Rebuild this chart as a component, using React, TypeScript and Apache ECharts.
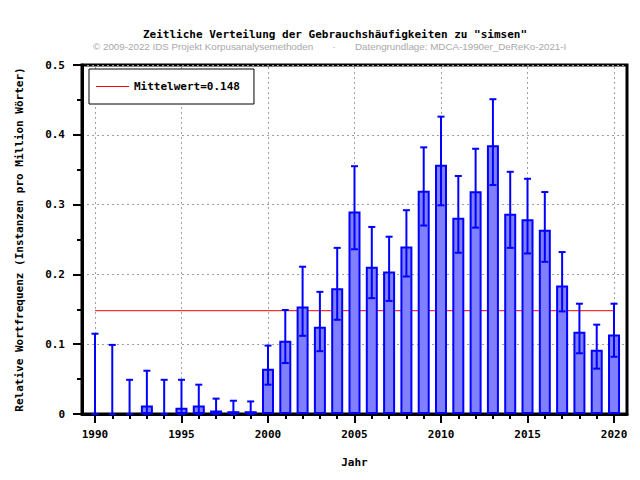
import React, { useEffect, useRef } from "react";
import * as echarts from "echarts";

const years = [
  1990, 1991, 1992, 1993, 1994, 1995, 1996, 1997, 1998, 1999,
  2000, 2001, 2002, 2003, 2004, 2005, 2006, 2007, 2008, 2009,
  2010, 2011, 2012, 2013, 2014, 2015, 2016, 2017, 2018, 2019, 2020,
];
const values = [
  0, 0, 0, 0.012, 0, 0.009, 0.012, 0.005, 0.004, 0.004,
  0.065, 0.105, 0.154, 0.125, 0.18, 0.29, 0.211, 0.204, 0.24, 0.32,
  0.357, 0.281, 0.319, 0.385, 0.287, 0.279, 0.264, 0.184, 0.118, 0.092, 0.114,
];
const upper = [
  0.115, 0.099, 0.049, 0.062, 0.049, 0.049, 0.042, 0.022, 0.019, 0.018,
  0.098, 0.149, 0.211, 0.175, 0.238, 0.355, 0.268, 0.254, 0.292, 0.382,
  0.426, 0.341, 0.38, 0.451, 0.347, 0.337, 0.318, 0.232, 0.158, 0.128, 0.158,
];
const lower = [
  0, 0, 0, 0, 0, 0, 0, 0, 0, 0,
  0.042, 0.073, 0.112, 0.09, 0.135, 0.236, 0.166, 0.162, 0.197, 0.27,
  0.299, 0.231, 0.267, 0.328, 0.238, 0.23, 0.218, 0.147, 0.087, 0.065, 0.082,
];
const meanValue = 0.148;
const meanLabel = "Mittelwert=0.148";
const labelYears = [1990, 1995, 2000, 2005, 2010, 2015, 2020];
const titleText = 'Zeitliche Verteilung der Gebrauchshäufigkeiten zu "simsen"';
const creditLeft = "© 2009-2022 IDS Projekt Korpusanalysemethoden";
const creditRight = "Datengrundlage: MDCA-1990er_DeReKo-2021-I";
const yName = "Relative Wortfrequenz (Instanzen pro Million Wörter)";
const xName = "Jahr";

export default function App() {
  const ref = useRef<HTMLDivElement>(null);
  useEffect(() => {
    const chart = echarts.init(ref.current!, null, { renderer: "svg" });
    const mono = "'DejaVu Sans Mono', monospace";
    const monoText = {
      fontFamily: mono,
      fontWeight: "bold" as const,
      fontSize: 11,
      color: "#000",
    };
    const creditFont = "9.8px 'Liberation Sans', Arial, sans-serif";
    const gridLine = { color: "#a0a0a0", width: 1, type: [2, 3] };
    const option = {
      animation: false,
      grid: {
        left: 82,
        right: 13,
        top: 65,
        bottom: 66,
        show: true,
        borderColor: "#000",
        borderWidth: 3,
        backgroundColor: "transparent",
      },
      legend: {
        data: [{ name: meanLabel, icon: "rect" }],
        left: 89,
        top: 69,
        orient: "vertical",
        backgroundColor: "#fff",
        borderColor: "#000",
        borderWidth: 1,
        borderRadius: 0,
        padding: [12, 14, 12, 7],
        itemWidth: 33,
        itemHeight: 1,
        selectedMode: false,
        textStyle: monoText,
      },
      xAxis: [
        {
          type: "value",
          min: 1989.25,
          max: 2020.75,
          position: "bottom",
          axisLine: { show: true, onZero: false, lineStyle: { color: "#000", width: 3 } },
          axisTick: {
            show: true,
            customValues: years,
            length: 5,
            lineStyle: { color: "#000", width: 2 },
          },
          axisLabel: { show: false },
          splitLine: { show: false },
          name: xName,
          nameLocation: "middle",
          nameGap: 43,
          nameTextStyle: monoText,
        },
        {
          type: "value",
          min: 1989.25,
          max: 2020.75,
          position: "bottom",
          axisLine: { show: false, onZero: false },
          axisTick: {
            show: true,
            customValues: labelYears,
            length: 9,
            lineStyle: { color: "#000", width: 2 },
          },
          axisLabel: {
            show: true,
            customValues: labelYears,
            margin: 15,
            formatter: (v: number) => String(v),
            ...monoText,
          },
          splitLine: { show: false },
        },
      ],
      yAxis: {
        type: "value",
        min: 0,
        max: 0.5,
        interval: 0.1,
        axisLine: { show: true, lineStyle: { color: "#000", width: 3 } },
        axisTick: { show: true, length: 9, lineStyle: { color: "#000", width: 2 } },
        minorTick: { show: true, splitNumber: 2, length: 5, lineStyle: { color: "#000", width: 2 } },
        axisLabel: { margin: 17, ...monoText },
        splitLine: { show: true, lineStyle: gridLine },
        name: yName,
        nameLocation: "middle",
        nameGap: 57,
        nameTextStyle: monoText,
      },
      graphic: [
        {
          type: "text",
          x: 335,
          y: 34,
          style: {
            text: titleText,
            font: `bold 11px ${mono}`,
            fill: "#000",
            align: "center",
            verticalAlign: "middle",
          },
        },
        {
          type: "text",
          x: 93,
          y: 46,
          style: { text: creditLeft, font: creditFont, fill: "#a8a8a8", verticalAlign: "middle" },
        },
        {
          type: "text",
          x: 334,
          y: 46,
          style: {
            text: "·",
            font: creditFont,
            fill: "#a8a8a8",
            align: "center",
            verticalAlign: "middle",
          },
        },
        {
          type: "text",
          x: 355,
          y: 46,
          style: { text: creditRight, font: creditFont, fill: "#a8a8a8", verticalAlign: "middle" },
        },
      ],
      series: [
        {
          name: meanLabel,
          type: "line",
          xAxisIndex: 0,
          yAxisIndex: 0,
          data: [
            [years[0], meanValue],
            [years[years.length - 1], meanValue],
          ],
          symbol: "none",
          lineStyle: { color: "#ff0000", width: 1 },
          itemStyle: { color: "#ff0000" },
          z: 1,
          markLine: {
            silent: true,
            z: 0,
            symbol: ["none", "none"],
            label: { show: false },
            lineStyle: gridLine,
            data: labelYears.map((y) => ({ xAxis: y })),
          },
        },
        {
          name: "Frequenz",
          type: "bar",
          xAxisIndex: 0,
          yAxisIndex: 0,
          barWidth: 12,
          data: years
            .map((y, i) => [y, values[i]])
            .filter((d) => d[1] > 0),
          itemStyle: { color: "#8080ff", borderColor: "#0000ff", borderWidth: 2 },
          z: 2,
        },
        {
          name: "Fehler",
          type: "custom",
          xAxisIndex: 0,
          yAxisIndex: 0,
          encode: { x: 0, y: [1, 2] },
          data: years.map((y, i) => [y, lower[i], upper[i]]),
          renderItem: (params: any, api: any) => {
            const x = api.value(0);
            const lo = api.coord([x, api.value(1)]);
            const hi = api.coord([x, api.value(2)]);
            const hw = 3.5;
            const style = { stroke: "#0000ff", lineWidth: 2 };
            return {
              type: "group",
              children: [
                { type: "line", shape: { x1: lo[0], y1: lo[1], x2: hi[0], y2: hi[1] }, style },
                { type: "line", shape: { x1: hi[0] - hw, y1: hi[1], x2: hi[0] + hw, y2: hi[1] }, style },
                { type: "line", shape: { x1: lo[0] - hw, y1: lo[1], x2: lo[0] + hw, y2: lo[1] }, style },
              ],
            };
          },
          z: 3,
        },
      ],
    };
    chart.setOption(option as any);
    return () => chart.dispose();
  }, []);
  return (
    <div
      ref={ref}
      style={{ position: "absolute", left: 0, top: 0, width: 640, height: 480 }}
    />
  );
}
